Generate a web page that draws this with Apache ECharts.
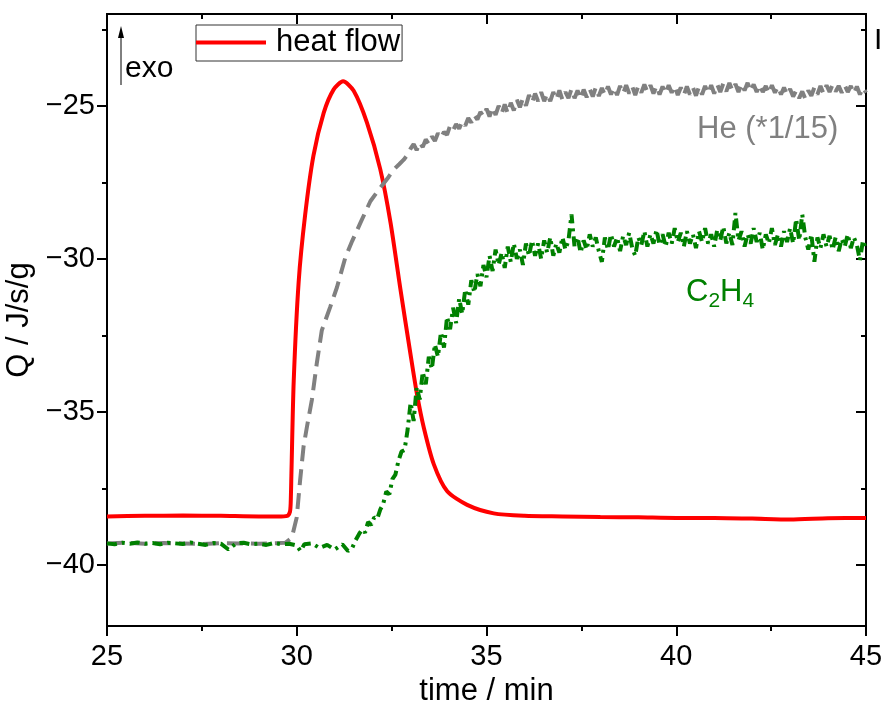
<!DOCTYPE html>
<html>
<head>
<meta charset="utf-8">
<script src="https://cdn.jsdelivr.net/npm/echarts@6/dist/echarts.min.js"></script>
<style>
  html, body { margin: 0; padding: 0; background: #fff; }
  #chart { width: 883px; height: 704px; }
</style>
</head>
<body>
<div id="chart"></div>
<script>
// heat flow: [time / min, Q / J/s/g]
const heatFlow = [
  [25.0, -38.42], [26.0, -38.4], [27.0, -38.39], [28.0, -38.4], [29.0, -38.42], [29.5, -38.42],
  [29.75, -38.4], [29.82, -38.27], [29.84, -38.0], [29.86, -37.0], [29.92, -34.0], [30.05, -30.76],
  [30.22, -28.58], [30.44, -26.63], [30.71, -25.23], [30.97, -24.47], [31.22, -24.2], [31.5, -24.51],
  [31.85, -25.55], [32.2, -27.07], [32.47, -28.81], [32.73, -30.98], [33.0, -33.14], [33.17, -34.44],
  [33.35, -35.53], [33.61, -36.71], [33.96, -37.59], [34.49, -38.04], [35.19, -38.32], [36.0, -38.4],
  [37.0, -38.42], [38.0, -38.44], [39.0, -38.45], [40.0, -38.47], [41.0, -38.47], [42.0, -38.49],
  [43.0, -38.52], [44.0, -38.48], [45.0, -38.47]
];

// He signal (scaled by 1/15)
const heSignal = [
  [25.0, -39.3], [25.5, -39.28], [26.0, -39.31], [26.5, -39.29], [27.0, -39.3], [27.5, -39.32],
  [28.0, -39.29], [28.5, -39.3], [29.0, -39.31], [29.5, -39.29], [29.7, -39.28], [29.87, -39.12],
  [30.0, -38.45], [30.09, -37.22], [30.18, -36.13], [30.27, -35.48], [30.4, -34.6], [30.53, -33.4],
  [30.66, -32.34], [30.88, -31.58], [31.06, -30.93], [31.28, -29.96], [31.46, -29.42], [31.68, -28.82],
  [31.94, -28.12], [32.2, -27.68], [32.4, -27.36], [32.55, -27.09], [32.7, -26.91], [32.82, -26.76],
  [32.92, -26.6],
  [33.0, -26.4], [33.08, -26.25], [33.16, -26.45], [33.24, -26.2], [33.32, -26.35], [33.4, -26.1],
  [33.48, -26.25], [33.56, -26.0], [33.64, -26.15], [33.72, -25.9], [33.8, -26.05], [33.88, -25.85],
  [33.96, -25.95], [34.04, -25.65], [34.12, -25.8], [34.2, -25.6], [34.28, -25.75], [34.36, -25.5],
  [34.44, -25.65], [34.52, -25.4], [34.6, -25.55], [34.68, -25.3], [34.76, -25.45], [34.84, -25.2],
  [34.92, -25.35],
  [35.0, -25.1], [35.08, -25.35], [35.16, -25.05], [35.24, -25.3], [35.32, -25.0], [35.4, -25.25],
  [35.48, -24.95], [35.56, -25.25], [35.64, -24.9], [35.72, -25.15], [35.8, -24.8], [35.88, -25.05],
  [35.96, -24.75], [36.04, -25.0], [36.12, -24.65], [36.2, -24.9], [36.28, -24.6], [36.36, -24.85],
  [36.44, -24.55], [36.52, -24.85], [36.6, -24.6], [36.68, -24.85], [36.76, -24.55], [36.84, -24.8],
  [36.92, -24.5], [37.0, -24.8], [37.08, -24.55], [37.16, -24.75], [37.24, -24.45], [37.32, -24.75],
  [37.4, -24.5], [37.48, -24.78], [37.56, -24.47], [37.64, -24.72], [37.72, -24.45], [37.8, -24.7],
  [37.88, -24.4], [37.96, -24.68], [38.04, -24.42], [38.12, -24.65], [38.2, -24.37], [38.28, -24.63],
  [38.36, -24.4], [38.44, -24.65], [38.52, -24.35], [38.6, -24.6], [38.68, -24.33], [38.76, -24.6],
  [38.84, -24.37], [38.92, -24.65], [39.0, -24.35], [39.08, -24.57], [39.16, -24.3], [39.24, -24.55],
  [39.32, -24.33], [39.4, -24.6], [39.48, -24.35], [39.56, -24.63], [39.64, -24.37], [39.72, -24.6],
  [39.8, -24.33], [39.88, -24.57], [39.96, -24.35], [40.04, -24.65], [40.12, -24.4], [40.2, -24.65],
  [40.28, -24.37], [40.36, -24.63], [40.44, -24.4], [40.52, -24.67], [40.6, -24.37], [40.68, -24.63],
  [40.76, -24.35], [40.84, -24.6], [40.92, -24.33], [41.0, -24.6], [41.08, -24.3], [41.16, -24.55],
  [41.24, -24.27], [41.32, -24.53], [41.4, -24.25], [41.48, -24.51], [41.56, -24.29], [41.64, -24.55],
  [41.72, -24.27], [41.8, -24.5], [41.88, -24.25], [41.96, -24.53], [42.04, -24.3], [42.12, -24.55],
  [42.2, -24.31], [42.28, -24.55], [42.36, -24.35], [42.44, -24.6], [42.52, -24.33], [42.6, -24.57],
  [42.68, -24.37], [42.76, -24.63], [42.84, -24.4], [42.92, -24.65], [43.0, -24.45], [43.08, -24.7],
  [43.16, -24.5], [43.24, -24.75], [43.32, -24.53], [43.4, -24.77], [43.48, -24.5], [43.56, -24.67],
  [43.64, -24.4], [43.72, -24.63], [43.8, -24.35], [43.88, -24.6], [43.96, -24.33], [44.04, -24.55],
  [44.12, -24.31], [44.2, -24.53], [44.28, -24.35], [44.36, -24.57], [44.44, -24.33], [44.52, -24.55],
  [44.6, -24.35], [44.68, -24.6], [44.76, -24.37], [44.84, -24.63], [44.92, -24.4], [45.0, -24.57]
];

// C2H4 signal
const ethSignal = [
  [25.0, -39.3], [25.2, -39.33], [25.4, -39.28], [25.6, -39.31], [25.8, -39.27], [26.0, -39.31],
  [26.2, -39.29], [26.4, -39.33], [26.6, -39.28], [26.8, -39.3], [27.0, -39.32], [27.2, -39.27],
  [27.4, -39.31], [27.6, -39.35], [27.8, -39.29], [28.0, -39.31], [28.2, -39.5], [28.4, -39.3],
  [28.6, -39.28], [28.8, -39.33], [29.0, -39.31], [29.2, -39.35], [29.4, -39.29], [29.6, -39.33],
  [29.8, -39.31], [30.0, -39.37], [30.1, -39.55], [30.2, -39.33], [30.4, -39.3], [30.6, -39.45],
  [30.8, -39.35], [31.0, -39.5], [31.2, -39.33], [31.35, -39.55], [31.46, -39.45], [31.55, -39.2],
  [31.64, -39.0], [31.72, -38.85], [31.8, -38.95], [31.88, -38.6], [31.96, -38.7], [32.04, -38.45],
  [32.12, -38.5], [32.2, -38.2], [32.28, -38.0], [32.36, -37.6], [32.44, -37.7], [32.52, -37.2],
  [32.6, -37.05], [32.68, -36.6], [32.76, -36.3], [32.84, -36.25], [32.92, -35.6],
  [33.0, -34.7], [33.08, -35.3], [33.16, -34.2], [33.24, -34.6], [33.32, -33.7], [33.4, -34.1],
  [33.48, -33.2], [33.56, -33.6], [33.64, -32.8], [33.72, -33.2], [33.8, -32.4], [33.88, -32.9],
  [33.96, -31.9], [34.04, -32.3], [34.12, -31.6], [34.2, -32.1], [34.28, -31.3], [34.36, -31.8],
  [34.44, -31.0], [34.52, -31.5], [34.6, -30.7], [34.68, -31.1], [34.76, -30.5], [34.84, -30.9],
  [34.92, -30.2], [35.0, -30.6], [35.08, -29.9], [35.16, -30.4], [35.24, -29.7], [35.32, -30.2],
  [35.4, -29.8], [35.48, -30.3], [35.56, -29.6], [35.64, -30.1], [35.72, -29.5], [35.8, -30.0],
  [35.88, -29.7], [35.96, -30.2], [36.04, -29.5], [36.12, -29.9], [36.2, -29.4], [36.28, -29.9],
  [36.36, -29.5], [36.44, -30.0], [36.52, -29.4], [36.6, -29.8], [36.68, -29.3], [36.76, -29.9],
  [36.84, -29.5], [36.92, -29.8], [37.0, -29.3], [37.08, -29.7], [37.16, -29.4], [37.24, -28.55],
  [37.32, -29.6], [37.4, -29.3], [37.48, -29.8], [37.56, -29.4], [37.64, -29.7], [37.72, -29.2],
  [37.8, -29.6], [37.88, -29.3], [37.96, -29.75], [38.04, -30.1], [38.12, -29.3], [38.2, -29.7],
  [38.28, -29.2], [38.36, -29.6], [38.44, -29.3], [38.52, -29.75], [38.6, -29.25], [38.68, -29.55],
  [38.76, -29.15], [38.84, -29.65], [38.92, -29.9], [39.0, -29.3], [39.08, -29.55], [39.16, -29.1],
  [39.24, -29.6], [39.32, -29.2], [39.4, -29.5], [39.48, -29.05], [39.56, -29.55], [39.64, -29.2],
  [39.72, -29.6], [39.8, -29.15], [39.88, -29.5], [39.96, -29.0], [40.04, -29.45], [40.12, -29.15],
  [40.2, -29.6], [40.28, -29.1], [40.36, -29.5], [40.44, -29.2], [40.52, -29.65], [40.6, -29.1],
  [40.68, -29.45], [40.76, -29.0], [40.84, -29.5], [40.92, -29.2], [41.0, -29.6], [41.08, -29.05],
  [41.16, -29.4], [41.24, -28.95], [41.32, -29.5], [41.4, -29.15], [41.48, -29.55], [41.56, -28.5],
  [41.64, -29.4], [41.72, -29.1], [41.8, -29.6], [41.88, -29.2], [41.96, -29.5], [42.04, -29.0],
  [42.12, -29.45], [42.2, -29.15], [42.28, -29.7], [42.36, -29.2], [42.44, -29.5], [42.52, -29.0],
  [42.6, -29.55], [42.68, -29.2], [42.76, -29.6], [42.84, -29.1], [42.92, -29.45], [43.0, -29.0],
  [43.08, -29.5], [43.16, -28.7], [43.24, -29.4], [43.32, -28.55], [43.4, -29.3], [43.48, -29.7],
  [43.56, -29.2], [43.64, -30.1], [43.72, -29.3], [43.8, -29.65], [43.88, -29.2], [43.96, -29.6],
  [44.04, -29.25], [44.12, -29.7], [44.2, -29.3], [44.28, -29.75], [44.36, -29.35], [44.44, -29.6],
  [44.52, -29.2], [44.6, -29.65], [44.68, -29.3], [44.76, -29.55], [44.84, -30.05], [44.92, -29.4],
  [45.0, -29.7]
];

// axis ticks
const yMajor = [-40, -35, -30, -25];
const yMinor = [-37.5, -32.5, -27.5, -22.5];

const FONT = '"Liberation Sans", Arial, sans-serif';
const minus = v => String(v).replace('-', '\u2212');

const chart = echarts.init(document.getElementById('chart'), null, { renderer: 'canvas' });

const frameLine = { show: true, onZero: false, lineStyle: { color: '#000', width: 2 } };
const tickStyle = { color: '#000', width: 2 };
const yAxisBase = { type: 'value', min: -42, max: -22, splitLine: { show: false }, axisLine: frameLine };

chart.setOption({
  animation: false,
  backgroundColor: '#fff',
  grid: { left: 107, right: 17, top: 14, bottom: 78, containLabel: false, outerBoundsMode: 'none' },
  legend: {
    data: ['heat flow'],
    left: 196, top: 25,
    icon: 'rect', itemWidth: 70, itemHeight: 4,
    padding: [2, 2, 3, 0],
    borderColor: '#333', borderWidth: 1,
    selectedMode: false,
    textStyle: { fontFamily: FONT, fontSize: 31, color: '#000', padding: [0, 0, 0, 5] }
  },
  xAxis: [
    {
      type: 'value', position: 'bottom', min: 25, max: 45, interval: 5,
      name: 'time / min', nameLocation: 'middle', nameGap: 46,
      nameTextStyle: { fontFamily: FONT, fontSize: 31, color: '#000' },
      axisLine: frameLine,
      axisTick: { show: true, length: 10, lineStyle: tickStyle },
      minorTick: { show: true, splitNumber: 2, length: 5, lineStyle: tickStyle },
      axisLabel: { fontFamily: FONT, fontSize: 29, color: '#000', margin: 16 },
      splitLine: { show: false }
    },
    {
      type: 'value', position: 'top', min: 25, max: 45, interval: 5,
      axisLine: frameLine,
      axisTick: { show: true, inside: true, length: 10, lineStyle: tickStyle },
      minorTick: { show: true, splitNumber: 2, length: 5, lineStyle: tickStyle },
      axisLabel: { show: false },
      splitLine: { show: false }
    }
  ],
  yAxis: [
    Object.assign({}, yAxisBase, {
      position: 'left',
      name: 'Q / J/s/g', nameLocation: 'middle', nameGap: 64, nameRotate: 90,
      nameTextStyle: { fontFamily: FONT, fontSize: 31, color: '#000' },
      axisTick: { show: true, length: 10, customValues: yMajor, lineStyle: tickStyle },
      axisLabel: { fontFamily: FONT, fontSize: 29, color: '#000', margin: 12, customValues: yMajor, formatter: minus }
    }),
    Object.assign({}, yAxisBase, {
      position: 'left',
      axisTick: { show: true, length: 5, customValues: yMinor, lineStyle: tickStyle },
      axisLabel: { show: false }
    }),
    Object.assign({}, yAxisBase, {
      position: 'right',
      axisTick: { show: true, inside: true, length: 10, customValues: yMajor, lineStyle: tickStyle },
      axisLabel: { show: false }
    }),
    Object.assign({}, yAxisBase, {
      position: 'right',
      axisTick: { show: true, inside: true, length: 5, customValues: yMinor, lineStyle: tickStyle },
      axisLabel: { show: false }
    })
  ],
  series: [
    {
      name: 'heat flow', type: 'line', data: heatFlow,
      showSymbol: false, smooth: 0.25,
      lineStyle: { color: '#ff0000', width: 4 }, itemStyle: { color: '#ff0000' }
    },
    {
      name: 'He', type: 'line', data: heSignal,
      showSymbol: false,
      lineStyle: { color: '#808080', width: 4, type: [16, 8] }, itemStyle: { color: '#808080' }
    },
    {
      name: 'C2H4', type: 'line', data: ethSignal,
      showSymbol: false,
      lineStyle: { color: '#008000', width: 4, type: [10, 5, 3, 5] }, itemStyle: { color: '#008000' }
    }
  ],
  graphic: [
    // exothermic direction marker
    { type: 'line', shape: { x1: 121, y1: 36, x2: 121, y2: 85 }, style: { stroke: '#000', lineWidth: 1 } },
    { type: 'polygon', shape: { points: [[121, 26], [118, 38], [124, 38]] }, style: { fill: '#000' } },
    { type: 'text', left: 125, top: 54, style: { text: 'exo', font: '30px ' + FONT, fill: '#000' } },
    { type: 'text', left: 697, top: 114, style: { text: 'He (*1/15)', font: '31px ' + FONT, fill: '#808080' } },
    {
      type: 'text', left: 686, top: 277,
      style: {
        text: 'C{s|2}H{s|4}', font: '31px ' + FONT, fill: '#008000',
        rich: { s: { fontFamily: FONT, fontSize: 21, fill: '#008000', padding: [17, 0, 0, 0] } }
      }
    },
    { type: 'text', left: 874, top: 26, style: { text: 'I', font: '30px ' + FONT, fill: '#000' } }
  ]
});
</script>
</body>
</html>
